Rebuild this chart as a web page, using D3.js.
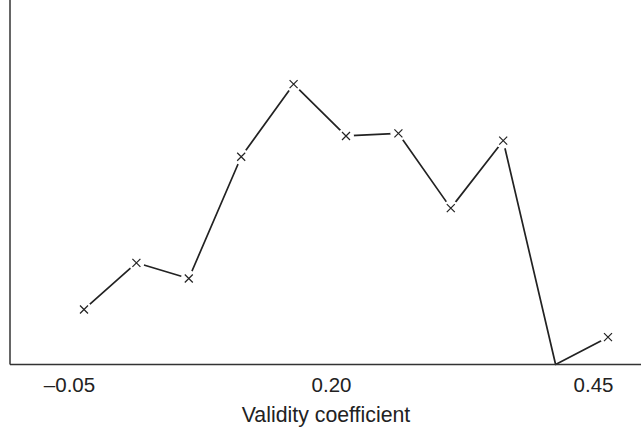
<!DOCTYPE html>
<html>
<head>
<meta charset="utf-8">
<script src="https://cdn.jsdelivr.net/npm/d3@7"></script>
<style>
  body { margin: 0; background: #fff; }
  text { font-family: "Liberation Sans", Arial, sans-serif; fill: #222; }
</style>
</head>
<body>
<svg id="chart" width="641" height="428"></svg>
<script>
// validity coefficient bins and frequency (arbitrary units, no y ticks shown)
var coef = [-0.05, 0.00, 0.05, 0.10, 0.15, 0.20, 0.25, 0.30, 0.35, 0.40, 0.45];
var freq = [15.1, 27.9, 23.6, 57.0, 76.9, 62.7, 63.4, 42.9, 61.4, 0, 7.5];
var tickVals = [-0.05, 0.20, 0.45];
var tickText = ['\u20130.05', '0.20', '0.45'];

var svg = d3.select('#chart');
var axisY = 364.5, axisX = 10;

var x = d3.scaleLinear().domain([-0.05, 0.45]).range([84, 608]);
var y = d3.scaleLinear().domain([0, 100]).range([axisY, 0]);

var data = coef.map(function (c, i) { return {c: c, v: freq[i]}; });
var shown = data.filter(function (d) { return d.v > 0; });

//mask: gaps in the line around each marker
var mask = svg.append('defs').append('mask').attr('id', 'gaps');
mask.append('rect').attr('width', 641).attr('height', 428).attr('fill', '#fff');
mask.selectAll('circle')
  .data(shown).enter()
  .append('circle')
  .attr('cx', function (d) { return x(d.c); })
  .attr('cy', function (d) { return y(d.v); })
  .attr('r', 8)
  .attr('fill', '#000');

//line
var line = d3.line()
  .x(function (d) { return x(d.c); })
  .y(function (d) { return y(d.v); });

svg.append('path')
  .datum(data)
  .attr('d', line)
  .attr('fill', 'none')
  .attr('stroke', '#222')
  .attr('stroke-width', 1.7)
  .attr('stroke-linejoin', 'round')
  .attr('mask', 'url(#gaps)');

//markers
var s = 4;
svg.selectAll('.mark')
  .data(shown).enter()
  .append('path')
  .attr('class', 'mark')
  .attr('d', function (d) {
    var cx = x(d.c), cy = y(d.v);
    return 'M' + (cx - s) + ',' + (cy - s) + 'L' + (cx + s) + ',' + (cy + s) +
           'M' + (cx - s) + ',' + (cy + s) + 'L' + (cx + s) + ',' + (cy - s);
  })
  .attr('stroke', '#222')
  .attr('stroke-width', 1.2)
  .attr('fill', 'none');

//axes
svg.append('line')
  .attr('x1', axisX).attr('x2', 641)
  .attr('y1', axisY).attr('y2', axisY)
  .attr('stroke', '#333').attr('stroke-width', 1.5);
svg.append('line')
  .attr('x1', axisX).attr('x2', axisX)
  .attr('y1', 0).attr('y2', axisY)
  .attr('stroke', '#333').attr('stroke-width', 1.5);

var xAxis = d3.axisBottom(x)
  .tickValues(tickVals)
  .tickSize(0)
  .tickPadding(0)
  .tickFormat(function (d, i) { return tickText[i]; });

var g = svg.append('g')
  .attr('transform', 'translate(0,' + axisY + ')')
  .call(xAxis);
g.select('.domain').remove();
g.selectAll('text')
  .attr('dx', -15)
  .attr('dy', 0)
  .attr('y', 27)
  .style('font-size', '20.5px')
  .style('font-family', '"Liberation Sans", Arial, sans-serif')
  .attr('fill', '#222');

svg.append('text')
  .attr('x', 326)
  .attr('y', 422)
  .attr('text-anchor', 'middle')
  .style('font-size', '21.3px')
  .text('Validity coefficient');
</script>
</body>
</html>
